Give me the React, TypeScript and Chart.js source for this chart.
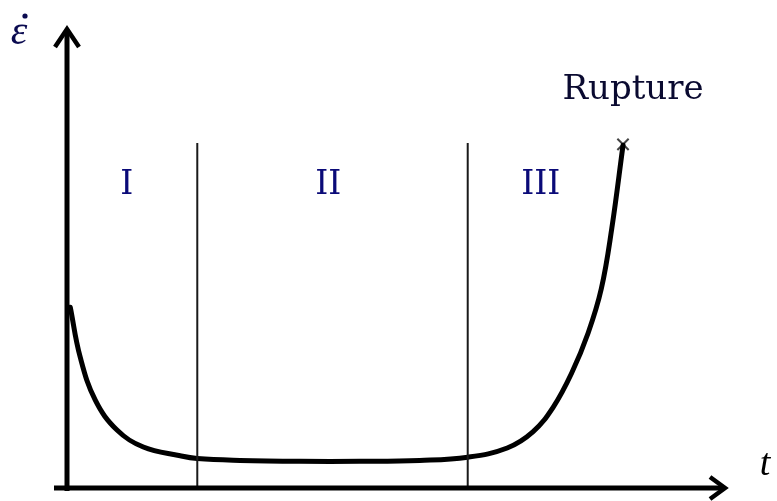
import React, { useEffect, useRef } from "react";
import { Chart, registerables } from "chart.js";

Chart.register(...registerables);

// creep curve: time (arbitrary units) vs strain rate (arbitrary units)
const timeValues = [0.05, 0.2, 0.43, 0.76, 1.16, 1.72, 1.98, 2.63, 3.54, 4.45, 5.36, 6.09, 6.69, 7.08, 7.39, 7.67, 7.92, 8.12, 8.28, 8.45];
const rateValues = [3.93, 2.85, 1.91, 1.26, 0.89, 0.7, 0.64, 0.6, 0.58, 0.58, 0.6, 0.67, 0.87, 1.22, 1.76, 2.5, 3.37, 4.33, 5.65, 7.45];

const stageBoundaries = [1.98, 6.09];
const boundaryTop = 7.5;
const stageLabels = ["I", "II", "III"];
const stageLabelX = [0.91, 3.97, 7.2];
const stageLabelY = 6.4;
const rupturePoint = { x: 8.45, y: 7.47 };
const ruptureLabel = "Rupture";
const xAxisLabel = "t";
const yAxisLabel = "ε";

const xMax = 10;
const yMax = 10;

const overlayPlugin = {
  id: "overlay",
  afterDraw(chart: any) {
    const { ctx, chartArea, scales } = chart;
    const xs = scales.x;
    const ys = scales.y;
    const left = chartArea.left;
    const right = chartArea.right;
    const top = chartArea.top;
    const bottom = chartArea.bottom;
    ctx.save();
    ctx.strokeStyle = "#000";
    ctx.lineWidth = 5;
    ctx.lineCap = "butt";
    // y axis
    ctx.beginPath();
    ctx.moveTo(left, bottom + 3);
    ctx.lineTo(left, top + 2);
    ctx.stroke();
    ctx.beginPath();
    ctx.lineJoin = "miter";
    ctx.lineWidth = 4.5;
    ctx.moveTo(left - 12, top + 19);
    ctx.lineTo(left, top + 1);
    ctx.lineTo(left + 12, top + 19);
    ctx.stroke();
    // x axis
    ctx.lineWidth = 5;
    ctx.beginPath();
    ctx.moveTo(left - 13, bottom);
    ctx.lineTo(right - 2, bottom);
    ctx.stroke();
    ctx.lineWidth = 4.5;
    ctx.beginPath();
    ctx.moveTo(right - 15, bottom - 11);
    ctx.lineTo(right, bottom);
    ctx.lineTo(right - 15, bottom + 11);
    ctx.stroke();

    // stage labels
    ctx.fillStyle = "#0a0a78";
    ctx.font = "33px 'DejaVu Serif'";
    ctx.textAlign = "center";
    ctx.textBaseline = "alphabetic";
    stageLabels.forEach((s, i) => {
      ctx.fillText(s, xs.getPixelForValue(stageLabelX[i]), ys.getPixelForValue(stageLabelY));
    });

    // rupture label
    ctx.fillStyle = "#0a0a30";
    ctx.font = "34px 'DejaVu Serif'";
    ctx.fillText(ruptureLabel, xs.getPixelForValue(rupturePoint.x) + 10, ys.getPixelForValue(rupturePoint.y) - 45);

    // axis labels
    ctx.fillStyle = "#0a0a50";
    ctx.font = "italic 42px 'Liberation Serif'";
    ctx.textAlign = "center";
    ctx.fillText(yAxisLabel, 19, top + 16);
    ctx.beginPath();
    ctx.arc(25, top - 12, 2.6, 0, Math.PI * 2);
    ctx.fill();
    ctx.fillStyle = "#000";
    ctx.font = "italic 38px 'Liberation Serif'";
    ctx.fillText(xAxisLabel, right + 40, bottom - 13);
    ctx.restore();
  },
};

export default function App() {
  const ref = useRef<HTMLCanvasElement | null>(null);
  useEffect(() => {
    document.body.style.margin = "0";
    const canvas = ref.current;
    if (!canvas) return;
    const curve = timeValues.map((t, i) => ({ x: t, y: rateValues[i] }));
    const boundaryDatasets = stageBoundaries.map((b) => ({
      type: "line" as const,
      data: [
        { x: b, y: 0 },
        { x: b, y: boundaryTop },
      ],
      borderColor: "#1a1a1a",
      borderWidth: 2,
      pointRadius: 0,
      clip: false as any,
    }));
    const chart = new Chart(canvas, {
      type: "line",
      data: {
        datasets: [
          ...boundaryDatasets,
          {
            type: "line",
            data: curve,
            borderColor: "#000",
            borderWidth: 5,
            pointRadius: 0,
            tension: 0.4,
            borderCapStyle: "round",
            borderJoinStyle: "round",
            clip: false as any,
          },
          {
            type: "scatter",
            data: [rupturePoint],
            pointStyle: "crossRot",
            pointRadius: 8,
            borderColor: "#444",
            borderWidth: 2,
            clip: false as any,
          },
        ] as any,
      },
      options: {
        animation: false,
        responsive: false,
        layout: { padding: { left: 67, right: 52, top: 28, bottom: 13 } },
        plugins: { legend: { display: false }, tooltip: { enabled: false } },
        scales: {
          x: { type: "linear", min: 0, max: xMax, display: false },
          y: { type: "linear", min: 0, max: yMax, display: false },
        },
      },
      plugins: [overlayPlugin],
    });
    return () => chart.destroy();
  }, []);
  return (
    <div style={{ position: "absolute", left: 0, top: 0, width: 777, height: 501, background: "#fff" }}>
      <canvas ref={ref} width={777} height={501} />
    </div>
  );
}
